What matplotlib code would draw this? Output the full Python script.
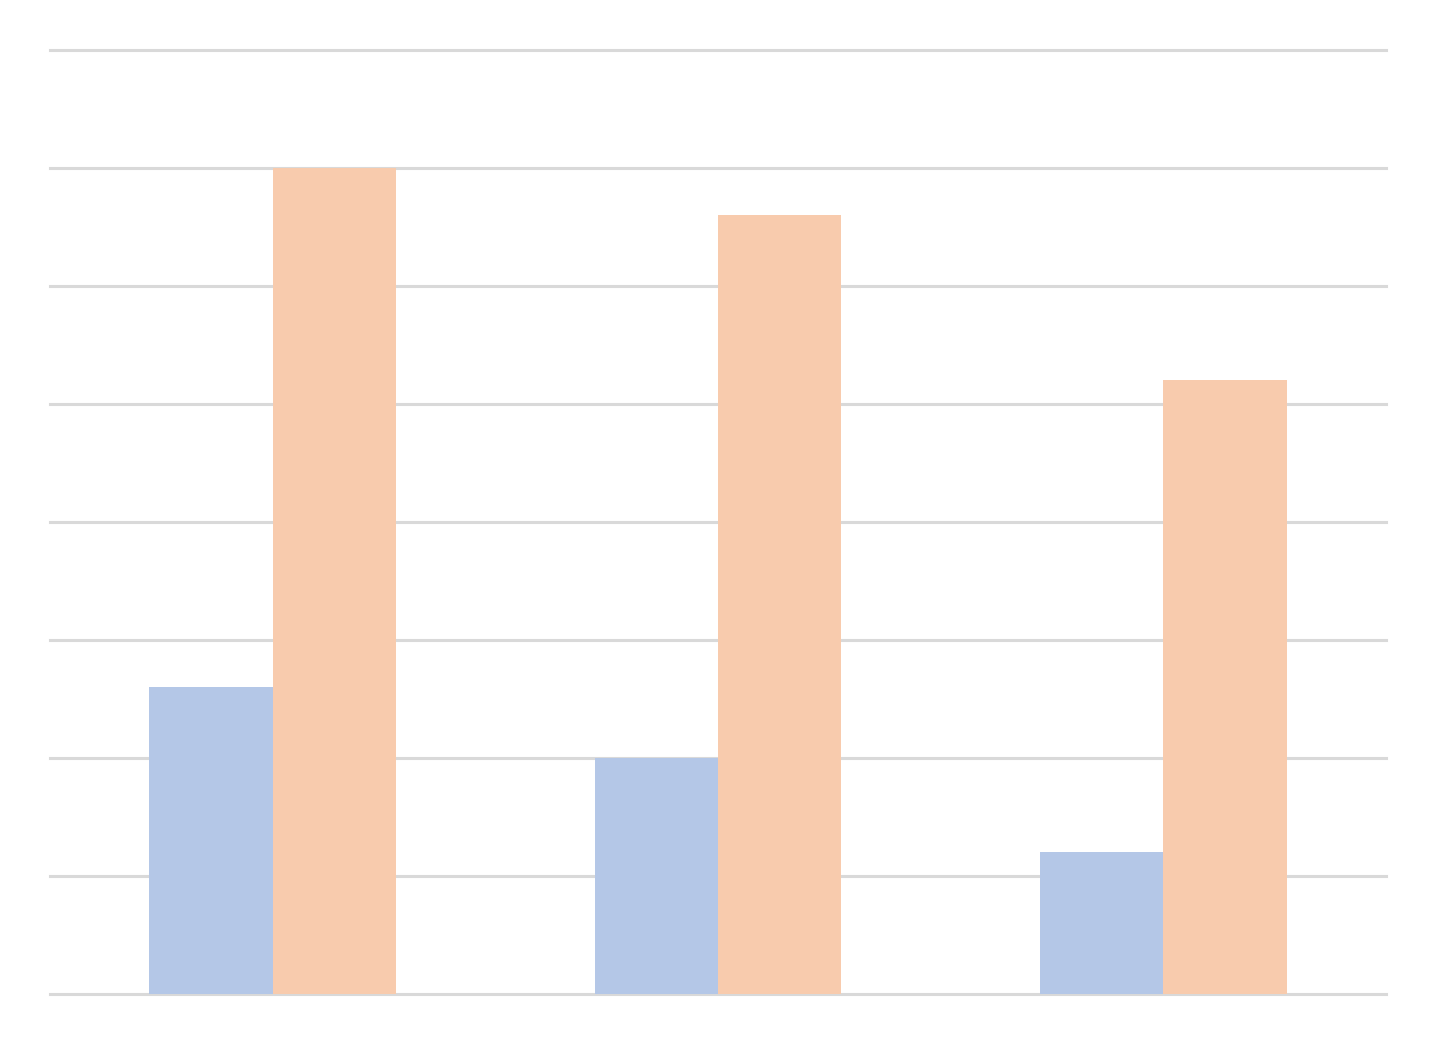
import matplotlib
matplotlib.use('Agg')
import matplotlib.pyplot as plt
import numpy as np

# values (gridlines every 5 units, 0..40)
groups = ['A', 'B', 'C']
series_blue = [13, 10, 6]
series_orange = [35, 33, 26]

fig = plt.figure(figsize=(14.37, 10.45), dpi=100)
ax = fig.add_axes([50 / 1437, (1045 - 994) / 1045, (1386 - 50) / 1437, (994 - 50) / 1045])

x = np.arange(len(groups))
w = 0.277
ax.bar(x - w / 2, series_blue, w, color='#b4c7e7', zorder=2)
ax.bar(x + w / 2, series_orange, w, color='#f8cbad', zorder=2)

ax.set_xlim(-0.5, len(groups) - 0.5)
ax.set_ylim(0, 40)
ax.set_yticks(np.arange(0, 41, 5))
ax.grid(axis='y', color='#d9d9d9', linewidth=2.2)
ax.set_axisbelow(True)
for gl in ax.get_ygridlines():
    gl.set_clip_on(False)
ax.tick_params(left=False, bottom=False, labelleft=False, labelbottom=False)
for s in ax.spines.values():
    s.set_visible(False)

fig.savefig('out.png', dpi=100)
